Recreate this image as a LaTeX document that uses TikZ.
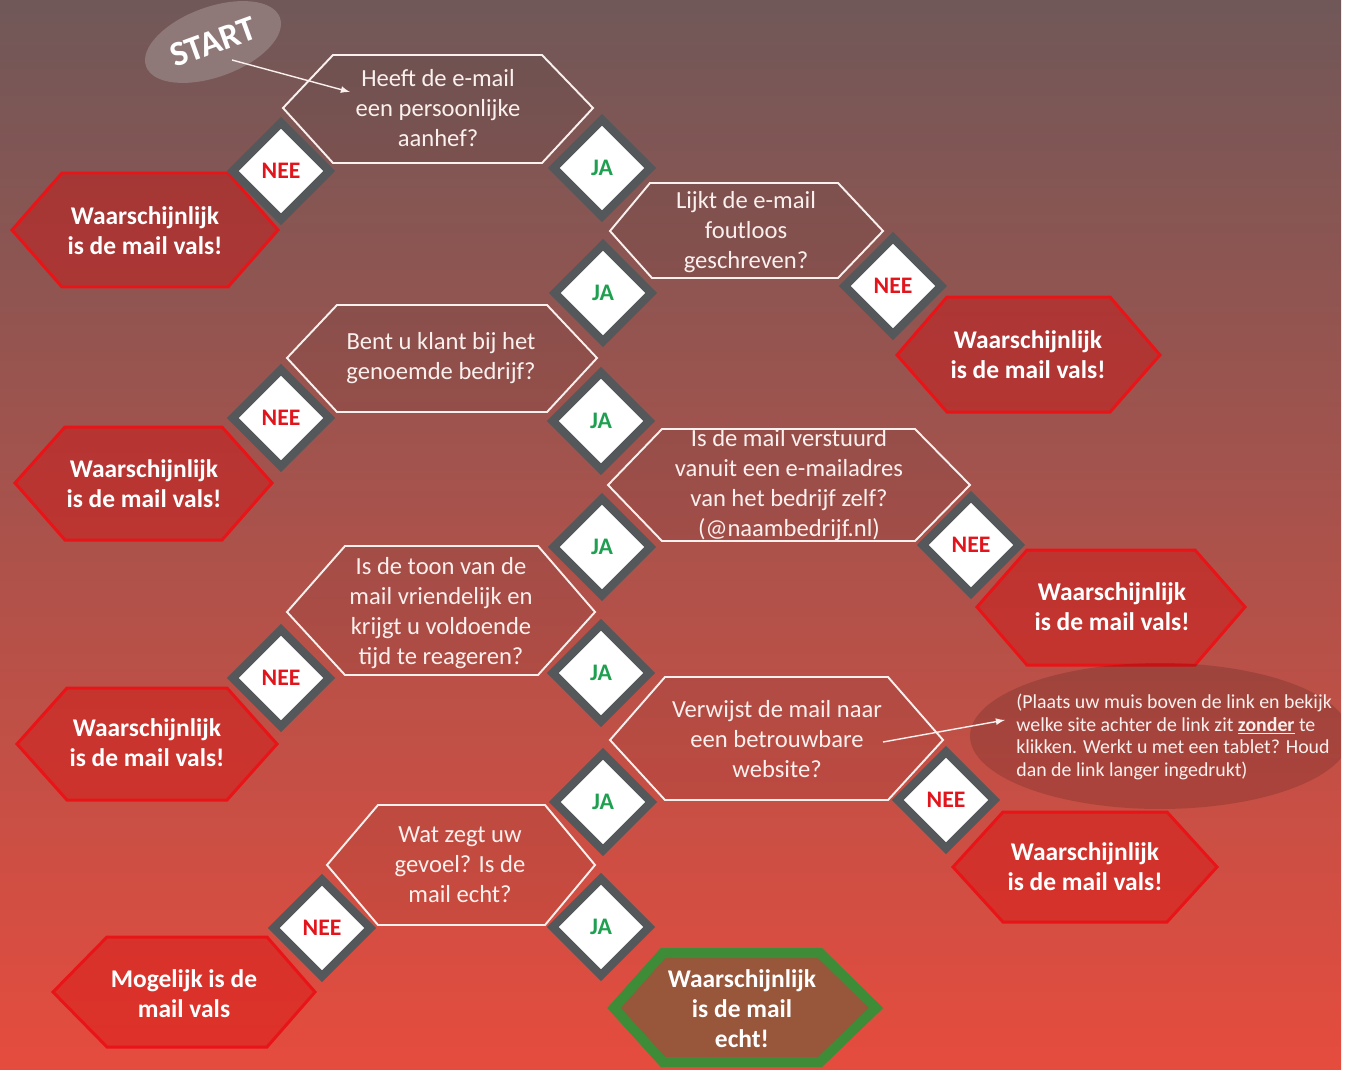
\documentclass[tikz,border=0pt]{standalone}
\usepackage{fontspec}
\setmainfont{Carlito}
\usetikzlibrary{shapes.geometric}
\definecolor{bgtop}{RGB}{112,88,88}
\definecolor{bgmid}{RGB}{172,72,66}
\definecolor{bgbot}{RGB}{229,76,62}
\definecolor{blobgray}{RGB}{142,120,120}
\definecolor{qwhite}{RGB}{250,240,238}
\definecolor{neered}{RGB}{226,20,28}
\definecolor{jagreen}{RGB}{30,160,80}
\definecolor{boxgray}{RGB}{85,88,90}
\definecolor{valsred}{RGB}{215,10,10}
\definecolor{valsline}{RGB}{232,20,24}
\definecolor{echtgreen}{RGB}{62,140,56}
\definecolor{echtfill}{RGB}{152,86,58}

\begin{document}
\begin{tikzpicture}[x=0.02cm,y=-0.02cm,
	qline/.style={draw=qwhite,line width=1.1pt,fill=black,fill opacity=0.05},
	qtext/.style={text=qwhite,align=center,inner sep=0pt,font=\fontsize{14}{17}\selectfont},
	rline/.style={draw=valsline,line width=1.7pt,fill=valsred,fill opacity=0.4},
	rtext/.style={text=white,align=center,inner sep=0pt,font=\bfseries\fontsize{14.5}{17}\selectfont},
	ansbox/.style={diamond,draw=boxgray,fill=white,line width=4.8pt,minimum size=2cm,inner sep=0pt,font=\bfseries\fontsize{13.5}{14}\selectfont},
	nee/.style={ansbox,text=neered},
	ja/.style={ansbox,text=jagreen},
	pointer/.style={draw=qwhite,line width=0.8pt,-latex}]
	
	\useasboundingbox (0,0) rectangle (1346,1069);
	\shade[top color=bgtop,middle color=bgmid,bottom color=bgbot] (0,0) rectangle (1341,1069);
	
	% start blob
	\node[ellipse,fill=blobgray,minimum width=2.64cm,minimum height=1.4cm,rotate=20,text=white,font=\bfseries\fontsize{20}{20}\selectfont] (start) at (213,42) {START};
	
	% questions
	\draw[qline] (283,108) -- (333,55) -- (542,55) -- (593,108) -- (542,163) -- (333,163) -- cycle;
	\draw[qline] (610,231) -- (650,183) -- (838,183) -- (883,231) -- (838,278) -- (652,278) -- cycle;
	\draw[qline] (287,358) -- (337,305) -- (547,305) -- (597,358) -- (547,412) -- (337,412) -- cycle;
	\draw[qline] (608,485) -- (662,429) -- (915,429) -- (970,485) -- (915,541) -- (662,541) -- cycle;
	\draw[qline] (287,612) -- (345,546) -- (538,546) -- (595,612) -- (538,675) -- (345,675) -- cycle;
	\draw[qline] (610,740) -- (665,677) -- (888,677) -- (943,740) -- (888,800) -- (665,800) -- cycle;
	\draw[qline] (327,865) -- (378,805) -- (545,805) -- (595,865) -- (545,925) -- (378,925) -- cycle;
	
	% results
	\draw[rline] (12,230) -- (62,173) -- (228,173) -- (278,230) -- (228,287) -- (62,287) -- cycle;
	\draw[rline] (897,355) -- (947,297) -- (1110,297) -- (1160,355) -- (1110,412) -- (947,412) -- cycle;
	\draw[rline] (15,483) -- (65,427) -- (222,427) -- (272,483) -- (222,540) -- (65,540) -- cycle;
	\draw[rline] (977,607) -- (1027,550) -- (1195,550) -- (1245,607) -- (1195,665) -- (1027,665) -- cycle;
	\draw[rline] (17,744) -- (67,688) -- (227,688) -- (277,744) -- (227,800) -- (67,800) -- cycle;
	\draw[rline] (953,867) -- (1003,812) -- (1167,812) -- (1217,867) -- (1167,922) -- (1003,922) -- cycle;
	\draw[rline] (53,992) -- (107,937) -- (267,937) -- (315,992) -- (267,1047) -- (107,1047) -- cycle;
	\draw[draw=echtgreen,fill=echtfill,line width=5.7pt] (614,1008) -- (663,953) -- (820,953) -- (876,1008) -- (820,1062) -- (663,1062) -- cycle;
	
	% tip
	\begin{scope}
		\clip (0,0) rectangle (1341,1069);
		\fill[black,opacity=0.14] (1160,736) ellipse [x radius=3.8cm,y radius=1.46cm];
	\end{scope}
	
	\node[qtext] (q1) at (438,108) {Heeft de e-mail\\een persoonlijke\\aanhef?};
	\node[qtext] (q2) at (746,232) {Lijkt de e-mail\\foutloos\\geschreven?};
	\node[qtext] (q3) at (441,358) {Bent u klant bij het\\genoemde bedrijf?};
	\node[qtext] (q4) at (789,485) {Is de mail verstuurd\\vanuit een e-mailadres\\van het bedrijf zelf?\\(@naambedrijf.nl)};
	\node[qtext] (q5) at (441,613) {Is de toon van de\\mail vriendelijk en\\krijgt u voldoende\\tijd te reageren?};
	\node[qtext] (q6) at (777,739) {Verwijst de mail naar\\een betrouwbare\\website?};
	\node[qtext] (q7) at (460,865) {Wat zegt uw\\gevoel? Is de\\mail echt?};
	
	\node[rtext] (r1) at (145,231) {Waarschijnlijk\\is de mail vals!};
	\node[rtext] (r2) at (1028,355) {Waarschijnlijk\\is de mail vals!};
	\node[rtext] (r3) at (144,484) {Waarschijnlijk\\is de mail vals!};
	\node[rtext] (r4) at (1112,607) {Waarschijnlijk\\is de mail vals!};
	\node[rtext] (r5) at (147,743) {Waarschijnlijk\\is de mail vals!};
	\node[rtext] (r6) at (1085,867) {Waarschijnlijk\\is de mail vals!};
	\node[rtext] (r7) at (184,994) {Mogelijk is de\\mail vals};
	\node[rtext] (echt) at (742,1009) {Waarschijnlijk\\is de mail\\echt!};
	
	\node[text=qwhite,align=left,anchor=west,inner sep=0pt,font=\fontsize{11.3}{13}\selectfont] (tip) at (1016,737) {(Plaats uw muis boven de link en bekijk\\welke site achter de link zit \textbf{\underline{zonder}} te\\klikken. Werkt u met een tablet? Houd\\dan de link langer ingedrukt)};
	
	% arrows
	\coordinate (startfoot) at (232,60);
	\coordinate (q1in) at (350,92);
	\coordinate (q6out) at (883,742);
	\coordinate (tipin) at (1005,720);
	\draw[pointer] (startfoot) -- (q1in);
	\draw[pointer] (q6out) -- (tipin);
	
	% answers
	\node[nee] (nee1) at (281,171) {NEE};
	\node[ja] (ja1) at (602,168) {JA};
	\node[ja] (ja2) at (603,293) {JA};
	\node[nee] (nee2) at (893,286) {NEE};
	\node[nee] (nee3) at (281,418) {NEE};
	\node[ja] (ja3) at (601,421) {JA};
	\node[ja] (ja4) at (602,547) {JA};
	\node[nee] (nee4) at (971,545) {NEE};
	\node[nee] (nee5) at (281,678) {NEE};
	\node[ja] (ja5) at (601,673) {JA};
	\node[ja] (ja6) at (603,802) {JA};
	\node[nee] (nee6) at (946,800) {NEE};
	\node[nee] (nee7) at (322,928) {NEE};
	\node[ja] (ja7) at (601,927) {JA};
\end{tikzpicture}
\end{document}
